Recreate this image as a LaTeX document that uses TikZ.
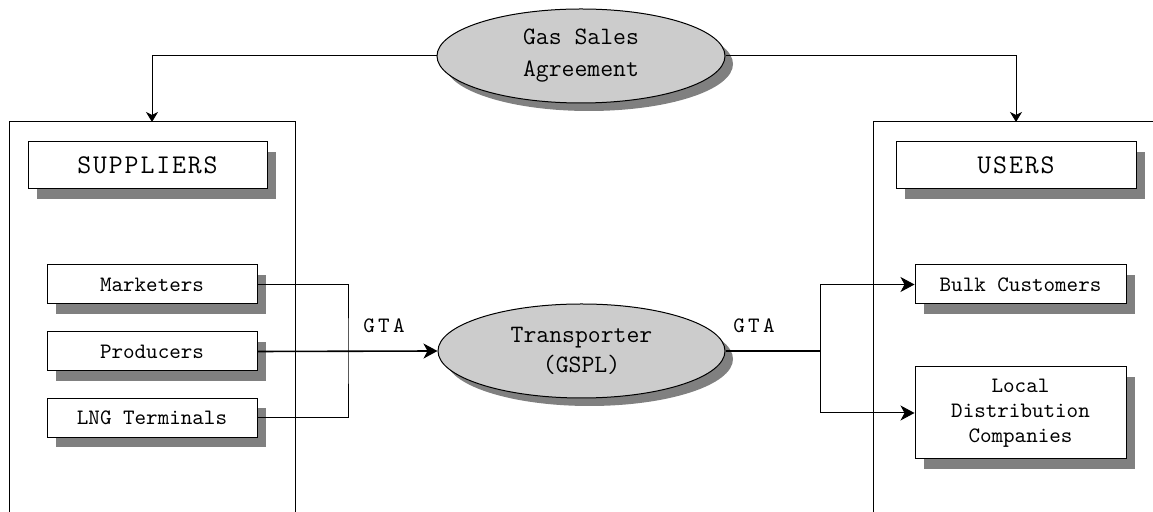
\documentclass[tikz,border=0pt]{standalone}
\usepackage{fontspec}
\setmainfont{Latin Modern Mono}
\newfontfamily\widett[LetterSpace=7]{Latin Modern Mono}
\newfontfamily\gtatt[LetterSpace=15]{Latin Modern Mono}
\usetikzlibrary{arrows.meta,shapes.geometric,shadows}

\begin{document}
\begin{tikzpicture}[x=0.5pt,y=-0.5pt,
	box/.style={draw,fill=white,line width=0.5pt,inner sep=0pt,
		drop shadow={shadow xshift=4.5pt,shadow yshift=-5pt,fill=black!50,opacity=1}},
	oval/.style={ellipse,draw,fill=black!20,line width=0.5pt,inner sep=0pt,align=center,
		drop shadow={shadow xshift=4pt,shadow yshift=-4pt,fill=black!50,opacity=1}},
	wire/.style={line width=0.5pt},
	feed/.style={line width=0.8pt},
	tip/.style={-{Stealth[length=7pt,width=7.5pt,inset=2pt]}},
	smalltip/.style={-{Stealth[length=5pt,width=6pt,inset=1.5pt]}}]
			%%%%% START %%%%%
			\useasboundingbox (0,0) rectangle (1153,512);
			
			% two containers, open at the bottom
			\draw[wire] (9,512) -- (9,122) -- (295,122) -- (295,512);
			\draw[wire] (1153,122) -- (873,122) -- (873,512);
			\coordinate (suptop) at (152,122);
			\coordinate (usrtop) at (1016,122);
			
			\node[oval,minimum width=144pt,minimum height=47pt,font=\fontsize{12.5}{16}\selectfont]
				(gsa) at (581,56) {Gas Sales\\Agreement};
			\draw[wire,smalltip] (gsa.west) -| (suptop);
			\draw[wire,smalltip] (gsa.east) -| (usrtop);
			
			\node[box,minimum width=119.5pt,minimum height=23.5pt,font=\widett\fontsize{13.5}{15}\selectfont]
				(sup) at (147.5,165.5) {SUPPLIERS};
			\node[box,minimum width=120pt,minimum height=23.5pt,font=\widett\fontsize{13.5}{15}\selectfont]
				(usr) at (1016,165.5) {USERS};
			
			\node[box,minimum width=105pt,minimum height=19.5pt,font=\fontsize{11}{12}\selectfont]
				(mkt) at (152,284.5) {Marketers};
			\node[box,minimum width=105pt,minimum height=19.5pt,font=\fontsize{11}{12}\selectfont]
				(prd) at (152,351.5) {Producers};
			\node[box,minimum width=105pt,minimum height=19.5pt,font=\fontsize{11}{12}\selectfont]
				(lng) at (152,418) {LNG Terminals};
			
			\node[oval,minimum width=143.5pt,minimum height=47pt,font=\fontsize{12.5}{15}\selectfont]
				(trn) at (581.5,351) {Transporter\\(GSPL)};
			
			\node[box,minimum width=105.5pt,minimum height=19.5pt,font=\fontsize{11}{12}\selectfont]
				(blk) at (1020.5,284.5) {Bulk Customers};
			\node[box,minimum width=105.5pt,minimum height=46pt,align=center,font=\fontsize{11}{12.5}\selectfont]
				(ldc) at (1020.5,413) {Local\\Distribution\\Companies};
			
			% GTA links
			\coordinate (jl) at (348,351);
			\coordinate (jr) at (820,351);
			\draw[wire] (mkt.east) -| (jl) |- (lng.east);
			\draw[feed,tip] (prd.east) -- (trn.west);
			\draw[feed] (trn.east) -- (jr);
			\draw[wire,tip] (jr) |- (blk.west);
			\draw[wire,tip] (jr) |- (ldc.west);
			
			\node[font=\gtatt\fontsize{11}{12}\selectfont] (gtal) at (384,326) {GTA};
			\node[font=\gtatt\fontsize{11}{12}\selectfont] (gtar) at (754,326) {GTA};
			%%%%% END %%%%%
\end{tikzpicture}
\end{document}
